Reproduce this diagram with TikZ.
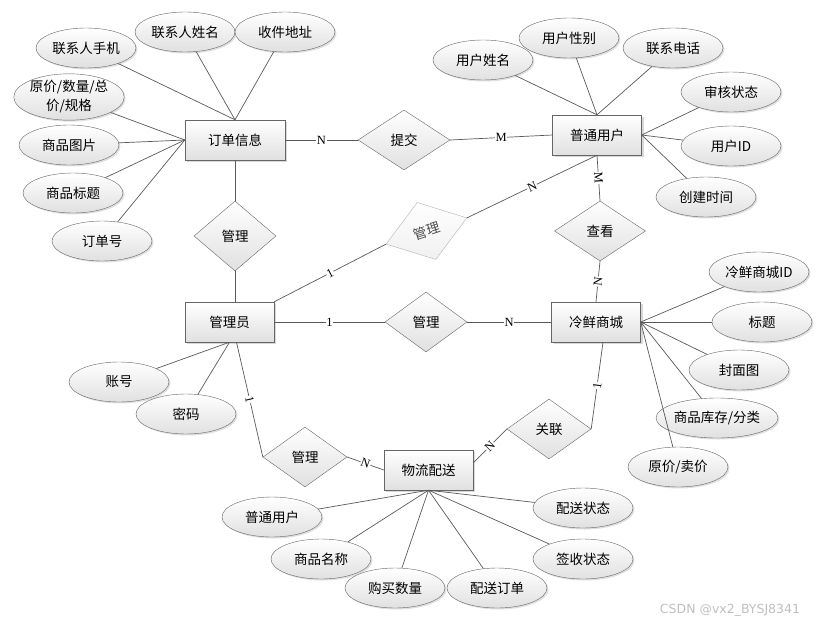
\documentclass[tikz,border=0pt]{standalone}
\usepackage{fontspec}
\setmainfont{Noto Sans CJK SC}
\newfontfamily\cardfont{Liberation Serif}
\newfontfamily\markfont{DejaVu Sans}
\usetikzlibrary{shapes.geometric, shadows}

\begin{document}
\begin{tikzpicture}[x=1pt, y=-1pt,
    ent/.style={draw=black!60, top color=white, bottom color=black!12,
                minimum width=89pt, minimum height=40pt, inner sep=2pt,
                font=\fontsize{13.5}{16}\selectfont,
                drop shadow={shadow xshift=2pt, shadow yshift=-2pt, fill=black!30, opacity=0.5}},
    attr/.style={ellipse, draw=black!60, top color=white, bottom color=black!12,
                 minimum width=100pt, minimum height=40pt, inner sep=0pt, align=center,
                 font=\fontsize{13.5}{19}\selectfont,
                 drop shadow={shadow xshift=1.5pt, shadow yshift=-1.5pt, fill=black!25, opacity=0.5}},
    rel/.style={diamond, draw=black!60, top color=white, bottom color=black!12,
                minimum width=84pt, minimum height=60pt, inner sep=0pt,
                font=\fontsize{13.5}{16}\selectfont},
    link/.style={draw=black!65, line width=0.7pt},
    card/.style={font=\cardfont\fontsize{12.5}{12.5}\selectfont, fill=white, inner sep=0.6pt}
  ]
    \useasboundingbox (0,0) rectangle (827,626);

    % entities
    \node[ent, minimum width=100pt] (ddxx) at (235,140) {订单信息};
    \node[ent] (pt) at (597,135) {普通用户};
    \node[ent] (gly) at (229.5,322) {管理员};
    \node[ent] (lx) at (596,322) {冷鲜商城};
    \node[ent] (wl) at (428.5,470) {物流配送};

    % relations
    \node[rel, minimum width=92pt] (tj) at (404,140) {提交};
    \node[rel, minimum width=82pt, minimum height=70pt] (gl1) at (235,236) {管理};
    \node[rel, minimum width=85pt, draw=black!30, bottom color=black!6, text=black!70,
          rotate=18] (gl2) at (426.5,231) {管理};
    \node[rel, minimum width=91pt] (ck) at (600,231) {查看};
    \node[rel, minimum width=82pt] (gl3) at (426,322) {管理};
    \node[rel] (gla) at (549,429) {关联};
    \node[rel] (gl4) at (305,457) {管理};

    % attributes of 订单信息
    \node[attr] (lxsj) at (86,48) {联系人手机};
    \node[attr] (lxxm) at (185,32) {联系人姓名};
    \node[attr] (sjdz) at (285,32) {收件地址};
    \node[attr] (yj) at (69,97) {原价/数量/总\\价/规格};
    \node[attr] (sptp) at (69,145) {商品图片};
    \node[attr] (spbt) at (73,193) {商品标题};
    \node[attr] (ddh) at (102,241) {订单号};

    % attributes of 普通用户
    \node[attr] (yhxm) at (483,60) {用户姓名};
    \node[attr] (yhxb) at (569,38) {用户性别};
    \node[attr] (lxdh) at (673,48) {联系电话};
    \node[attr] (shzt) at (731,92) {审核状态};
    \node[attr] (yhid) at (731,146) {用户ID};
    \node[attr] (cjsj) at (706,197) {创建时间};

    % attributes of 冷鲜商城
    \node[attr] (lxid) at (759,272) {冷鲜商城ID};
    \node[attr] (bt) at (762,322) {标题};
    \node[attr] (fmt) at (739,370) {封面图};
    \node[attr] (spkc) at (717,418) {商品库存/分类};
    \node[attr] (yjmj) at (678,467) {原价/卖价};

    % attributes of 管理员
    \node[attr] (zh) at (119,382) {账号};
    \node[attr] (mm) at (186,414) {密码};

    % attributes of 物流配送
    \node[attr] (ptyh) at (272,517) {普通用户};
    \node[attr] (spmc) at (321,559) {商品名称};
    \node[attr] (gmsl) at (395,588) {购买数量};
    \node[attr] (psdd) at (497,588) {配送订单};
    \node[attr] (pszt) at (583,508) {配送状态};
    \node[attr] (qszt) at (583,559) {签收状态};

    \node[font=\markfont\fontsize{12.5}{13}\selectfont, text=black!25] (wm) at (730,610) {CSDN @vx2\_BYSJ8341};

    % attribute links
    \foreach \a in {lxsj, lxxm, sjdz} \draw[link] (\a) -- (ddxx.north);
    \foreach \a in {yj, sptp, spbt, ddh} \draw[link] (\a) -- (ddxx.west);
    \foreach \a in {yhxm, yhxb, lxdh} \draw[link] (\a) -- (pt.north);
    \foreach \a in {shzt, yhid, cjsj} \draw[link] (\a) -- (pt.east);
    \foreach \a in {lxid, bt, fmt, spkc, yjmj} \draw[link] (\a) -- (lx.east);
    \foreach \a in {zh, mm} \draw[link] (\a) -- (gly.south);
    \foreach \a in {ptyh, spmc, gmsl, psdd, pszt, qszt} \draw[link] (\a) -- (wl.south);

    % relation links
    \draw[link] (ddxx.east) -- node[card]{N} (tj.west);
    \draw[link] (tj.east) -- node[card]{M} (pt.west);
    \draw[link] (ddxx.south) -- (gl1.north);
    \draw[link] (gl1.south) -- (gl1.south |- gly.north);
    \draw[link] (gly.north east) -- node[card, sloped]{1} (gl2.west);
    \draw[link] (gl2.east) -- node[card, sloped]{N} (pt.south);
    \draw[link] (pt.south) -- node[card, sloped]{M} (ck.north);
    \draw[link] (ck.south) -- node[card, sloped]{N} (lx.north);
    \draw[link] (gly.east) -- node[card]{1} (gl3.west);
    \draw[link] (gl3.east) -- node[card]{N} (lx.west);
    \draw[link] ([xshift=7pt]lx.south) -- node[card, sloped]{1} (gla.east);
    \draw[link] (gla.west) -- node[card, sloped]{N} ([yshift=7pt]wl.east);
    \draw[link] ([xshift=7pt]gly.south) -- node[card, sloped]{1} (gl4.west);
    \draw[link] (gl4.east) -- node[card, sloped]{N} (wl.west);
  \end{tikzpicture}
\end{document}
